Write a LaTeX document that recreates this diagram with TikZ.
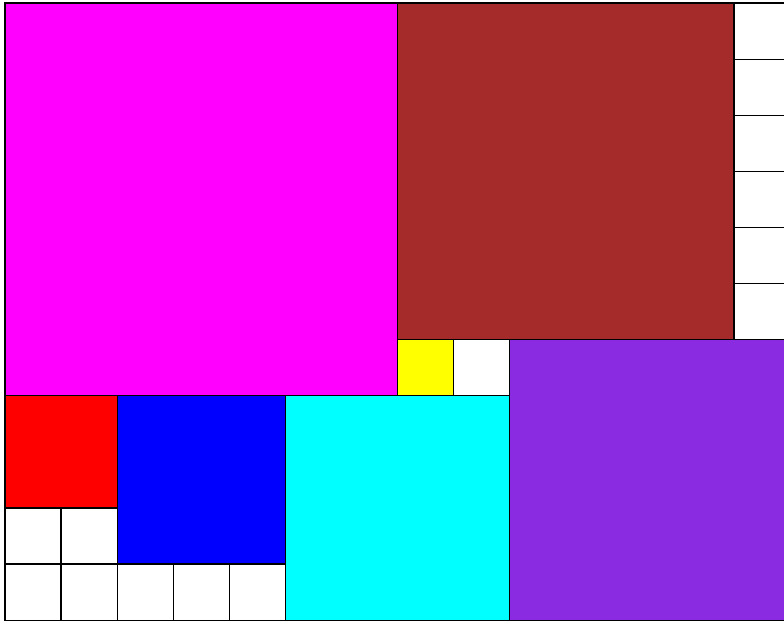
\documentclass[tikz,border=0pt]{standalone}
\definecolor{brownc}{HTML}{A52A2A}
\definecolor{purplec}{HTML}{8A2BE2}
\definecolor{magentac}{HTML}{FF00FF}
\definecolor{cyanc}{HTML}{00FFFF}
\definecolor{redc}{HTML}{FF0000}
\definecolor{bluec}{HTML}{0000FF}
\definecolor{yellowc}{HTML}{FFFF00}
\tikzset{sq/.style={draw=black,line width=1.2bp}}
\newcommand\tiles[1]{%
\path[#1,fill=magentac] (0,0) rectangle (7,7);
\path[#1,fill=brownc] (7,0) rectangle (13,6);
\foreach \j in {0,...,5} \path[#1,fill=white] (13,\j) rectangle (14,\j+1);
\path[#1,fill=yellowc] (7,6) rectangle (8,7);
\path[#1,fill=white] (8,6) rectangle (9,7);
\path[#1,fill=purplec] (9,6) rectangle (14,11);
\path[#1,fill=redc] (0,7) rectangle (2,9);
\path[#1,fill=bluec] (2,7) rectangle (5,10);
\path[#1,fill=cyanc] (5,7) rectangle (9,11);
\foreach \i in {0,1} \path[#1,fill=white] (\i,9) rectangle (\i+1,10);
\foreach \i in {0,...,4} \path[#1,fill=white] (\i,10) rectangle (\i+1,11);
}
\begin{document}
\begin{tikzpicture}
\useasboundingbox (0,0) rectangle (784bp,-622bp);
\clip (0,0) rectangle (784bp,-622bp);
\begin{scope}[shift={(5bp,-3bp)},x=56.07bp,y=-56.1bp]
\tiles{}
\tiles{sq,fill opacity=0}
\end{scope}
\end{tikzpicture}
\end{document}
